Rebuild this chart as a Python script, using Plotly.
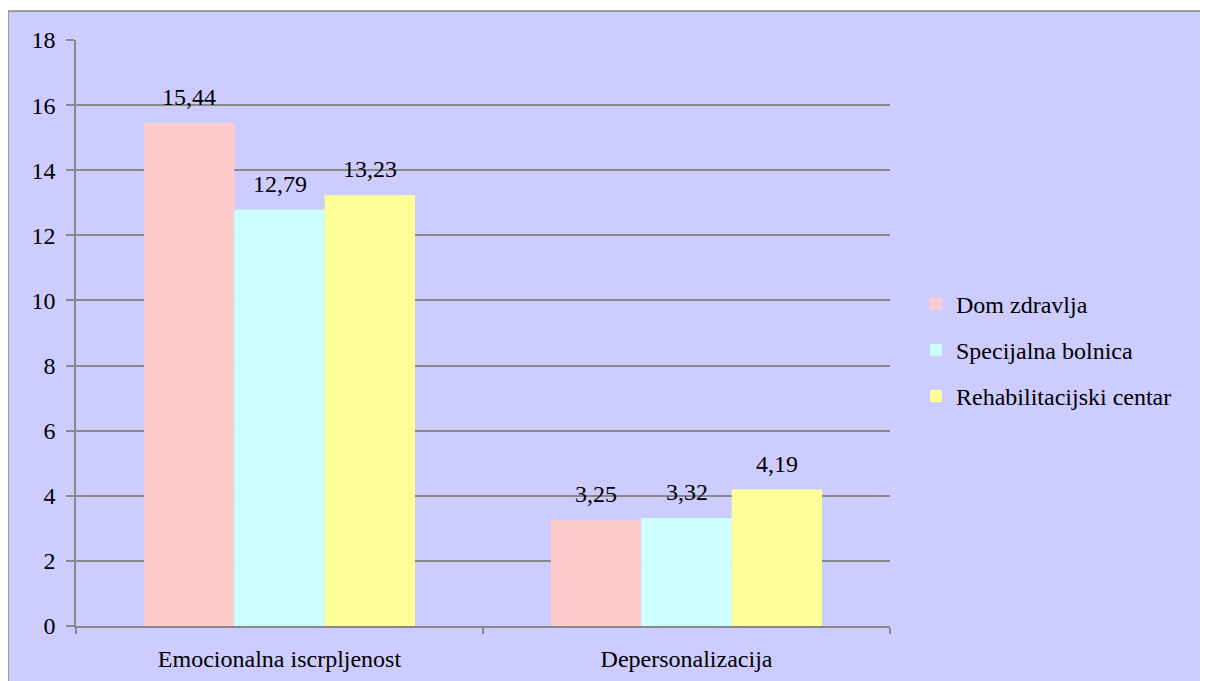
import plotly.graph_objects as go

categories = ["Emocionalna iscrpljenost", "Depersonalizacija"]
series_names = ["Dom zdravlja", "Specijalna bolnica", "Rehabilitacijski centar"]
dom_zdravlja = [15.44, 3.25]
specijalna_bolnica = [12.79, 3.32]
rehab_centar = [13.23, 4.19]
y_ticks = [0, 2, 4, 6, 8, 10, 12, 14, 16, 18]

colors = ["#FFCCCC", "#CCFFFF", "#FFFF99"]
FONT = "Liberation Serif, Times New Roman, serif"

# figure is placed by the page at (8, 8); made slightly larger than the window
W, H = 1220, 693
PX0, PX1, PY0, PY1 = 68, 882, 32, 618   # plot area in figure pixels
L, R, T, B = PX0, W - PX1, PY0, H - PY1
pw, ph = PX1 - PX0, PY1 - PY0
BARGAP = 0.334
bar_w = pw / len(categories) * (1 - BARGAP) / len(series_names)

fig = go.Figure()
all_series = [dom_zdravlja, specijalna_bolnica, rehab_centar]
for i, (name, vals) in enumerate(zip(series_names, all_series)):
    fig.add_trace(go.Bar(
        x=categories, y=vals, name=name,
        marker=dict(color=colors[i], line=dict(width=0)),
        legendgroup=name,
    ))
    for c, v in zip(categories, vals):
        fig.add_annotation(
            x=c, y=v, xref="x", yref="y",
            text=f"{v:.2f}".replace(".", ","),
            showarrow=False, yanchor="bottom", xanchor="center",
            xshift=(i - 1) * bar_w, yshift=11,
            font=dict(family=FONT, size=24, color="black"),
        )

# outer frame
fig.add_shape(type="rect", xref="paper", yref="paper",
              x0=(0 - PX0) / pw, x1=(W + 10 - PX0) / pw,
              y0=(PY1 - (H + 10)) / ph, y1=(PY1 - 3) / ph,
              fillcolor="#CCCCFF", line=dict(color="#888888", width=1.5),
              layer="below")

fig.update_layout(
    width=W, height=H,
    margin=dict(l=L, r=R, t=T, b=B, autoexpand=False),
    paper_bgcolor="white", plot_bgcolor="rgba(0,0,0,0)",
    barmode="group", bargap=BARGAP, bargroupgap=0,
    font=dict(family=FONT, size=24, color="black"),
    legend=dict(x=(908 - PX0) / pw, y=(PY1 - 342) / ph, xanchor="left", yanchor="middle",
                font=dict(family=FONT, size=24, color="black"),
                bgcolor="rgba(0,0,0,0)", tracegroupgap=12, itemwidth=30),
    xaxis=dict(showline=True, linecolor="#888888", linewidth=1.5,
               ticks="outside", tickson="boundaries", ticklen=6, tickcolor="#888888",
               tickwidth=1.5, showgrid=False, tickfont=dict(family=FONT, size=24),
               ticklabelstandoff=10),
    yaxis=dict(range=[0, 18], tickvals=y_ticks, showline=True, linecolor="#888888",
               linewidth=1.5, ticks="outside", ticklen=8, tickcolor="#888888", tickwidth=1.5,
               showgrid=True, gridcolor="#888888", gridwidth=1.5, zeroline=False,
               tickfont=dict(family=FONT, size=24), ticklabelstandoff=6),
)

fig.write_html("out.html")
